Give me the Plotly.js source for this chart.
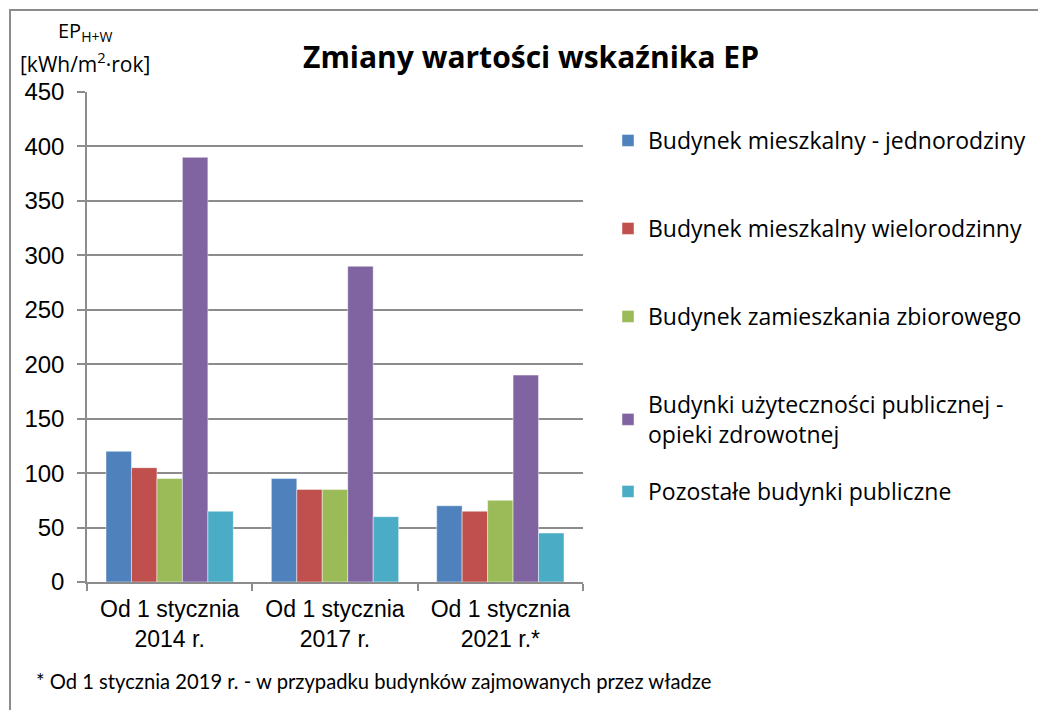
<!DOCTYPE html>
<html>
<head>
<meta charset="utf-8">
<script src="https://cdn.plot.ly/plotly-3.0.1.min.js"></script>
<style>
html,body{margin:0;padding:0;background:#fff;}
#frame{position:absolute;left:9px;top:9px;width:1040px;height:720px;border:2px solid #8c8c8c;pointer-events:none;box-sizing:border-box;}
#chart{position:absolute;left:0;top:0;width:1038px;height:710px;}
</style>
</head>
<body>
<div id="chart"></div>
<div id="frame"></div>
<script>
const categories = ["Od 1 stycznia<br>2014 r.", "Od 1 stycznia<br>2017 r.", "Od 1 stycznia<br>2021 r.*"];
const seriesNames = [
  "Budynek mieszkalny - jednorodziny",
  "Budynek mieszkalny wielorodzinny",
  "Budynek zamieszkania zbiorowego",
  "Budynki użyteczności publicznej -<br>opieki zdrowotnej",
  "Pozostałe budynki publiczne"
];
const jednorodzinny = [120, 95, 70];
const wielorodzinny = [105, 85, 65];
const zbiorowy = [95, 85, 75];
const opiekaZdrowotna = [390, 290, 190];
const pozostale = [65, 60, 45];
const colors = ["#4F81BD", "#C0504D", "#9BBB59", "#8064A2", "#4BACC6"];
const yTicks = [0, 50, 100, 150, 200, 250, 300, 350, 400, 450];

const values = [jednorodzinny, wielorodzinny, zbiorowy, opiekaZdrowotna, pozostale];
const legendNames = ["legend", "legend2", "legend3", "legend4", "legend5"];
const legendTopPx = [119, 207, 295, 383, 470];

const calibri = "'Open Sans', 'Noto Sans', sans-serif";
const lato = "Lato, sans-serif";
const arial = "'Liberation Sans', Arial, sans-serif";

const traces = values.map((v, i) => ({
  type: "bar",
  x: categories,
  y: v,
  name: seriesNames[i],
  legend: legendNames[i],
  marker: {color: colors[i], line: {color: "rgba(255,255,255,0.45)", width: 1}},
  hoverinfo: "y+name"
}));

const layout = {
  width: 1038,
  height: 710,
  margin: {l: 87, r: 455, t: 92, b: 128, autoexpand: false},
  paper_bgcolor: "#fff",
  plot_bgcolor: "#fff",
  barmode: "group",
  bargap: 0.23,
  bargroupgap: 0,
  title: {
    text: "<b>Zmiany wartości wskaźnika EP</b>",
    font: {family: calibri, size: 30, color: "#000"},
    x: 531 / 1038, xanchor: "center", xref: "container",
    y: 1 - 57 / 710, yanchor: "middle", yref: "container"
  },
  xaxis: {
    type: "category",
    showline: true, linecolor: "#8c8c8c", linewidth: 1.5,
    ticks: "outside", ticklen: 7, tickcolor: "#8c8c8c", tickwidth: 1.5,
    tickson: "boundaries",
    ticklabelstandoff: 6,
    tickfont: {family: arial, size: 23, color: "#000"},
    showgrid: false, zeroline: false
  },
  yaxis: {
    range: [0, 450],
    tickvals: yTicks,
    ticktext: yTicks.map(String),
    showline: true, linecolor: "#8c8c8c", linewidth: 1.5,
    ticks: "outside", ticklen: 8, tickcolor: "#8c8c8c", tickwidth: 1.5,
    ticklabelstandoff: 8,
    tickfont: {family: arial, size: 24, color: "#000"},
    showgrid: true, gridcolor: "#8c8c8c", gridwidth: 1.5,
    zeroline: false
  },
  annotations: [
    {
      text: "EP<sub>H+W</sub>",
      xref: "paper", yref: "paper",
      x: -2 / 496, y: 1 + 61 / 490, xanchor: "center", yanchor: "middle",
      showarrow: false, font: {family: calibri, size: 20, color: "#000"}
    },
    {
      text: "[kWh/m<sup>2</sup>·rok]",
      xref: "paper", yref: "paper",
      x: -69 / 496, y: 1 + 29 / 490, xanchor: "left", yanchor: "middle",
      showarrow: false, font: {family: calibri, size: 21, color: "#000"}
    },
    {
      text: "* Od 1 stycznia 2019 r. - w przypadku budynków zajmowanych przez władze",
      xref: "paper", yref: "paper",
      x: -53 / 496, y: -99 / 490, xanchor: "left", yanchor: "middle",
      showarrow: false, font: {family: lato, size: 20.2, color: "#000"}
    }
  ],
  showlegend: true
};

legendNames.forEach((ln, i) => {
  layout[ln] = {
    x: 608 / 1038, xref: "container", xanchor: "left",
    y: 1 - legendTopPx[i] / 710, yref: "container", yanchor: "top",
    font: {family: calibri, size: 23, color: "#000"},
    bgcolor: "rgba(0,0,0,0)",
    itemwidth: 30
  };
});

Plotly.newPlot("chart", traces, layout, {displayModeBar: false});
</script>
</body>
</html>
